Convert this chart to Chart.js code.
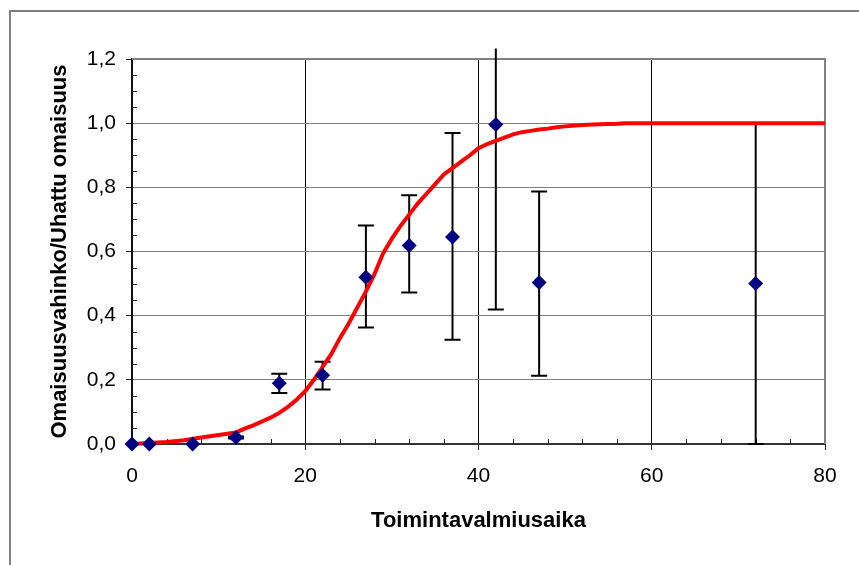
<!DOCTYPE html>
<html>
<head>
<meta charset="utf-8">
<script src="https://cdn.jsdelivr.net/npm/chart.js@4.4.0/dist/chart.umd.min.js"></script>
<style>
  html, body { margin: 0; padding: 0; background: #fff; }
  canvas { display: block; }
</style>
</head>
<body>
<canvas id="chart" width="859" height="565"></canvas>
<script>
// observed points with error bars
const obsX = [0, 2, 7, 12, 17, 22, 27, 32, 37, 42, 47, 72];
const obsY = [0, 0, 0, 0.02, 0.189, 0.214, 0.52, 0.619, 0.645, 0.996, 0.503, 0.5];
const errLow = [null, null, null, 0.017, 0.159, 0.17, 0.363, 0.472, 0.325, 0.419, 0.213, 0];
const errHigh = [null, null, null, 0.023, 0.219, 0.256, 0.681, 0.775, 0.969, 1.233, 0.787, 1.0];

// fitted curve
const fitX = [0, 2, 4, 6, 8, 10, 12, 13, 14, 15, 16, 17, 18, 19, 20, 21, 22, 23, 24, 25, 26, 27, 28, 29, 30,
  31, 32, 33, 34, 35, 36, 37, 38, 39, 40, 41, 42, 43, 44, 45, 46, 47, 48, 49, 50, 52, 54, 56, 57, 60, 70, 80];
const fitY = [0, 0.003, 0.006, 0.012, 0.02, 0.028, 0.036, 0.048, 0.058, 0.07, 0.082, 0.097, 0.116, 0.138, 0.165,
  0.2, 0.24, 0.28, 0.33, 0.375, 0.425, 0.475, 0.53, 0.595, 0.64, 0.68, 0.715, 0.75, 0.78, 0.81, 0.84, 0.86,
  0.88, 0.9, 0.922, 0.935, 0.945, 0.955, 0.965, 0.972, 0.976, 0.98, 0.983, 0.987, 0.99, 0.994, 0.997, 0.998,
  1.0, 1.0, 1.0, 1.0];

const xTitle = 'Toimintavalmiusaika';
const yTitle = 'Omaisuusvahinko/Uhattu omaisuus';

// outer frame, plot border, minor ticks and error bars
const decor = {
  id: 'decor',
  beforeDraw(chart) {
    const ctx = chart.ctx;
    ctx.save();
    ctx.strokeStyle = '#808080';
    ctx.lineWidth = 2;
    ctx.strokeRect(10, 11, 900, 600);
    ctx.restore();
  },
  beforeDatasetsDraw(chart) {
    const { ctx, chartArea: a, scales: { x, y } } = chart;
    ctx.save();
    ctx.strokeStyle = '#808080';
    ctx.lineWidth = 2;
    ctx.beginPath();
    ctx.moveTo(a.left, a.top);
    ctx.lineTo(a.right, a.top);
    ctx.lineTo(a.right, a.bottom);
    ctx.stroke();

    ctx.strokeStyle = '#222';
    ctx.lineWidth = 1;
    ctx.beginPath();
    for (let v = 4; v < 80; v += 4) {
      if (v % 20 === 0) continue;
      const px = Math.round(x.getPixelForValue(v)) + 0.5;
      ctx.moveTo(px, a.bottom);
      ctx.lineTo(px, a.bottom - 5);
    }
    for (let k = 1; k < 24; k++) {
      if (k % 4 === 0) continue;
      const py = Math.round(y.getPixelForValue(k * 0.05)) + 0.5;
      ctx.moveTo(a.left, py);
      ctx.lineTo(a.left + 5, py);
    }
    ctx.stroke();

    ctx.strokeStyle = '#000';
    ctx.lineWidth = 2;
    ctx.beginPath();
    obsX.forEach((xv, i) => {
      if (errLow[i] == null) return;
      const px = x.getPixelForValue(xv);
      const y1 = y.getPixelForValue(errLow[i]);
      const y2 = y.getPixelForValue(errHigh[i]);
      ctx.moveTo(px, y1);
      ctx.lineTo(px, y2);
      ctx.moveTo(px - 8, y1);
      ctx.lineTo(px + 8, y1);
      if (errHigh[i] <= y.max) {
        ctx.moveTo(px - 8, y2);
        ctx.lineTo(px + 8, y2);
      }
    });
    ctx.stroke();
    ctx.restore();
  }
};

const tickFont = { family: 'Liberation Sans', size: 21 };
const titleFont = { family: 'Liberation Sans', size: 22, weight: 'bold' };

new Chart(document.getElementById('chart'), {
  type: 'scatter',
  data: {
    datasets: [
      {
        label: 'obs',
        data: obsX.map((v, i) => ({ x: v, y: obsY[i] })),
        pointStyle: 'rectRot',
        pointRadius: 7.5,
        backgroundColor: '#000080',
        borderColor: '#000080',
        borderWidth: 0,
        clip: false,
        order: 0
      },
      {
        label: 'fit',
        data: fitX.map((v, i) => ({ x: v, y: fitY[i] })),
        showLine: true,
        borderColor: '#ff0000',
        borderWidth: 4,
        pointRadius: 0,
        tension: 0,
        clip: false,
        order: 1
      }
    ]
  },
  options: {
    responsive: false,
    animation: false,
    layout: { padding: { top: 59, right: 34, left: 0, bottom: 0 } },
    plugins: { legend: { display: false }, tooltip: { enabled: false } },
    scales: {
      x: {
        type: 'linear',
        min: 0,
        max: 80,
        afterFit(scale) { scale.height = 121; },
        ticks: { stepSize: 20, color: '#000', font: tickFont, padding: 14 },
        grid: {
          color: c => (c.tick && (c.tick.value === 0 || c.tick.value === 80)) ? 'rgba(0,0,0,0)' : '#000',
          tickColor: '#222',
          tickLength: 6,
          lineWidth: 1
        },
        border: { color: '#333', width: 2 },
        title: { display: true, text: xTitle, color: '#000', font: titleFont, padding: { top: 0, bottom: 31 } }
      },
      y: {
        type: 'linear',
        min: 0,
        max: 1.2,
        afterFit(scale) { scale.width = 132; },
        ticks: {
          stepSize: 0.2,
          color: '#000',
          font: tickFont,
          padding: 10,
          callback: v => v.toFixed(1).replace('.', ',')
        },
        grid: { color: '#808080', tickColor: '#222', tickLength: 6, lineWidth: 1 },
        border: { color: '#111', width: 2 },
        title: { display: true, text: yTitle, color: '#000', font: titleFont, padding: { top: 47, bottom: 0 } }
      }
    }
  },
  plugins: [decor]
});
</script>
</body>
</html>
